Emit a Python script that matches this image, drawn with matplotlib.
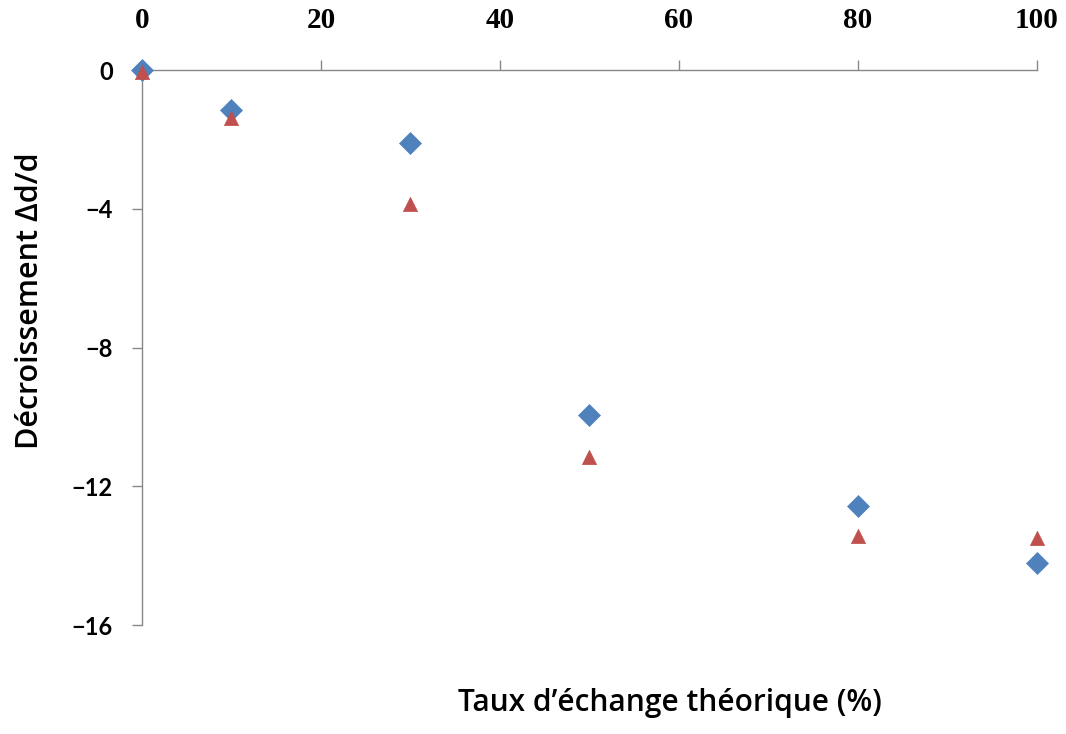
import matplotlib
matplotlib.use("Agg")
import matplotlib.pyplot as plt

# Theoretical exchange rate (%)
taux = [0, 10, 30, 50, 80, 100]
# Relative decrease of d, two series
serie_losange = [0.0, -1.15, -2.09, -9.94, -12.58, -14.22]
serie_triangle = [-0.05, -1.37, -3.86, -11.17, -13.42, -13.48]

x_ticks = [0, 20, 40, 60, 80, 100]
y_ticks = [0, -4, -8, -12, -16]

fig = plt.figure(figsize=(10.66, 7.34), dpi=100)
ax = fig.add_axes([0.1332, 0.1485, 0.8396, 0.7561])

ax.scatter(taux, serie_losange, marker="D", s=125, color="#4F81BD",
           edgecolors="#4F81BD", linewidths=0.5, zorder=3, clip_on=False)
ax.scatter(taux, serie_triangle, marker="^", s=105, color="#C0504D",
           edgecolors="#C0504D", linewidths=0.5, zorder=4, clip_on=False)

ax.set_xlim(0, 100)
ax.set_ylim(-16, 0)
ax.set_xticks(x_ticks)
ax.set_yticks(y_ticks)

for side in ("right", "bottom"):
    ax.spines[side].set_visible(False)
for side in ("left", "top"):
    ax.spines[side].set_color("#888888")
    ax.spines[side].set_linewidth(1.0)

ax.xaxis.set_ticks_position("top")
ax.xaxis.set_label_position("bottom")
ax.tick_params(axis="x", direction="out", length=7, width=1, color="#888888",
               pad=19, labelsize=21)
ax.tick_params(axis="y", direction="out", length=7, width=1, color="#888888",
               pad=14, labelsize=17)
for lbl in ax.get_xticklabels():
    lbl.set_fontfamily("Liberation Serif")
    lbl.set_fontweight("bold")
for lbl in ax.get_yticklabels():
    lbl.set_fontfamily("Lato")
    lbl.set_fontweight("bold")

ax.set_ylabel("Décroissement Δd/d", fontsize=22, fontfamily="Open Sans",
              fontweight="semibold")
ax.yaxis.set_label_coords(-0.108, 0.585)
fig.text(0.6285, 0.022, "Taux d\u2019échange théorique (%)", fontsize=21.5,
         fontfamily="Open Sans", fontweight="semibold", ha="center", va="bottom")

fig.savefig("out.png", dpi=100, facecolor="white")
